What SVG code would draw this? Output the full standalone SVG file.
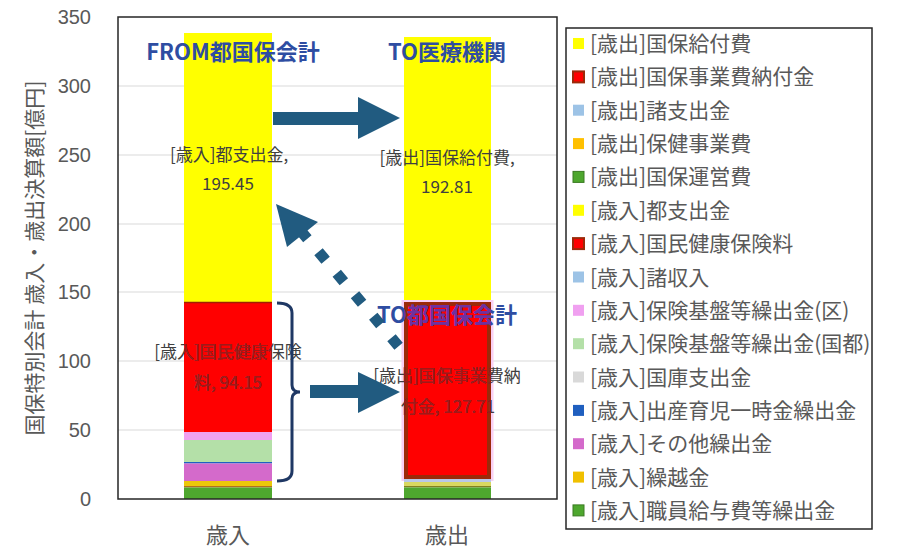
<svg xmlns="http://www.w3.org/2000/svg" width="900" height="556" viewBox="0 0 900 556">
<style>
.jp{font-family:"Noto Sans CJK JP","Noto Sans",sans-serif}
.tick{font-family:"Liberation Sans",Arial,sans-serif;font-size:20px;fill:#595959;text-anchor:end}
.grid{stroke:#D9D9D9;stroke-width:1.2}
.lbl{font-size:17px;fill:#404040;text-anchor:middle}
.lblr{font-size:17px;fill:#A01818;text-anchor:middle}
.ttl{font-size:22px;font-weight:bold;fill:#2E4DA2;text-anchor:middle}
.leg{font-size:21px;fill:#595959}
.cat{font-size:22px;fill:#595959;text-anchor:middle}
.arr{fill:#215B80}
</style>
<defs>
<clipPath id="redL"><rect x="184" y="302" width="88" height="130"/></clipPath>
<clipPath id="redR"><rect x="404" y="302" width="87" height="177"/></clipPath>
</defs>
<rect width="900" height="556" fill="#FFFFFF"/>

<g id="axes">
<line class="grid" x1="118" y1="86" x2="557" y2="86"/>
<line class="grid" x1="118" y1="155" x2="557" y2="155"/>
<line class="grid" x1="118" y1="224" x2="557" y2="224"/>
<line class="grid" x1="118" y1="292" x2="557" y2="292"/>
<line class="grid" x1="118" y1="361" x2="557" y2="361"/>
<line class="grid" x1="118" y1="430" x2="557" y2="430"/>
<text class="tick" x="91" y="24">350</text>
<text class="tick" x="91" y="93">300</text>
<text class="tick" x="91" y="162">250</text>
<text class="tick" x="91" y="231">200</text>
<text class="tick" x="91" y="299">150</text>
<text class="tick" x="91" y="368">100</text>
<text class="tick" x="91" y="437">50</text>
<text class="tick" x="91" y="506">0</text>
<text class="jp" font-size="21" fill="#595959" text-anchor="middle" transform="translate(42,258) rotate(-90)">国保特別会計 歳入・歳出決算額[億円]</text>
<text class="jp cat" x="228" y="543">歳入</text>
<text class="jp cat" x="447" y="543">歳出</text>
</g>

<g id="bar-income">
<rect x="184" y="33" width="88" height="269" fill="#FFFF00"/>
<rect x="184" y="302" width="88" height="130" fill="#FF0000"/>
<line x1="184" y1="302.5" x2="272" y2="302.5" stroke="#A02000" stroke-width="1.5"/>
<rect x="184" y="432" width="88" height="8" fill="#F0A0F0"/>
<rect x="184" y="440" width="88" height="22" fill="#B4E0A8"/>
<rect x="184" y="462" width="88" height="1.5" fill="#2060C0"/>
<rect x="184" y="463.5" width="88" height="17.5" fill="#D46ACB"/>
<rect x="184" y="481" width="88" height="5" fill="#EBC80A"/>
<rect x="184" y="486" width="88" height="1.5" fill="#B07020"/>
<rect x="184" y="487.5" width="88" height="11.5" fill="#4EA72E"/>
</g>

<g id="bar-expense">
<rect x="404" y="37" width="87" height="265" fill="#FFFF00"/>
<rect x="401.5" y="300" width="92" height="181" fill="#FAD0F4"/>
<rect x="406" y="304" width="83" height="173" fill="#FF0000" stroke="#9B2A0A" stroke-width="4"/>
<rect x="404" y="479" width="87" height="3" fill="#B8C8E8"/>
<rect x="404" y="482" width="87" height="4" fill="#D8D860"/>
<rect x="404" y="486" width="87" height="1.5" fill="#808020"/>
<rect x="404" y="487.5" width="87" height="11.5" fill="#4EA72E"/>
</g>

<rect id="plot-frame" x="118" y="17" width="439" height="482" fill="none" stroke="#262626" stroke-width="1.5"/>

<g id="labels" class="jp">
<text class="lbl" x="229" y="161">[歳入]都支出金,</text>
<text class="lbl" x="228" y="190">195.45</text>
<text class="lbl" x="447" y="164">[歳出]国保給付費,</text>
<text class="lbl" x="447" y="193">192.81</text>
<text class="lbl" x="228" y="358">[歳入]国民健康保険</text>
<text class="lbl" x="228" y="389">料, 94.15</text>
<g clip-path="url(#redL)">
<text class="lblr" x="228" y="358">[歳入]国民健康保険</text>
<text class="lblr" x="228" y="389">料, 94.15</text>
</g>
<text class="lbl" x="447" y="382">[歳出]国保事業費納</text>
<text class="lbl" x="448" y="413">付金, 127.71</text>
<g clip-path="url(#redR)">
<text class="lblr" x="447" y="382">[歳出]国保事業費納</text>
<text class="lblr" x="448" y="413">付金, 127.71</text>
</g>
</g>

<g id="title-from" class="jp"><text class="ttl" x="233" y="60">FROM都国保会計</text></g>
<g id="title-to-medical" class="jp"><text class="ttl" x="447" y="60">TO医療機関</text></g>
<g id="title-to-tokokuho" class="jp">
<text class="ttl" x="447" y="323">TO都国保会計</text>
<g clip-path="url(#redR)"><text class="ttl" x="447" y="323" style="fill:#7030A0">TO都国保会計</text></g>
</g>

<g id="connectors">
<polygon class="arr" points="273,112 358,112 358,97 400,118 358,139 358,125 273,125"/>
<polygon class="arr" points="310,385 358,385 358,372 400,392 358,413 358,398 310,398"/>
<path d="M277,303 Q292,303 292,313 L292,385 Q292,392 300,392 Q292,392 292,399 L292,471 Q292,481 277,481" fill="none" stroke="#1F3864" stroke-width="3"/>
<line x1="398.6" y1="346.2" x2="300" y2="230" stroke="#215B80" stroke-width="11" stroke-dasharray="11 17.2"/>
<polygon class="arr" points="276,204 318,222 287,247"/>
</g>

<g id="legend" class="jp">
<rect x="566" y="28" width="306" height="501" fill="#FFFFFF" stroke="#262626" stroke-width="1.5"/>
<rect x="573" y="38" width="11" height="11" fill="#FFFF00"/>
<text class="leg" x="590" y="51">[歳出]国保給付費</text>
<rect x="573" y="71.4" width="11" height="11" fill="#FF0000" stroke="#9B2A0A" stroke-width="2"/>
<text class="leg" x="590" y="84.4">[歳出]国保事業費納付金</text>
<rect x="573" y="104.7" width="11" height="11" fill="#9DC3E6"/>
<text class="leg" x="590" y="117.7">[歳出]諸支出金</text>
<rect x="573" y="138.1" width="11" height="11" fill="#FFC000"/>
<text class="leg" x="590" y="151.1">[歳出]保健事業費</text>
<rect x="573" y="171.4" width="11" height="11" fill="#4EA72E" stroke="#3A7A22" stroke-width="1"/>
<text class="leg" x="590" y="184.4">[歳出]国保運営費</text>
<rect x="573" y="204.8" width="11" height="11" fill="#FFFF00"/>
<text class="leg" x="590" y="217.8">[歳入]都支出金</text>
<rect x="573" y="238.1" width="11" height="11" fill="#FF0000" stroke="#9B2A0A" stroke-width="2"/>
<text class="leg" x="590" y="251.1">[歳入]国民健康保険料</text>
<rect x="573" y="271.5" width="11" height="11" fill="#9DC3E6"/>
<text class="leg" x="590" y="284.5">[歳入]諸収入</text>
<rect x="573" y="304.8" width="11" height="11" fill="#F0A0F0"/>
<text class="leg" x="590" y="317.8">[歳入]保険基盤等繰出金(区)</text>
<rect x="573" y="338.2" width="11" height="11" fill="#B4E0A8"/>
<text class="leg" x="590" y="351.2">[歳入]保険基盤等繰出金(国都)</text>
<rect x="573" y="371.5" width="11" height="11" fill="#D9D9D9"/>
<text class="leg" x="590" y="384.5">[歳入]国庫支出金</text>
<rect x="573" y="404.9" width="11" height="11" fill="#1F5FBF"/>
<text class="leg" x="590" y="417.9">[歳入]出産育児一時金繰出金</text>
<rect x="573" y="438.2" width="11" height="11" fill="#D46ACB"/>
<text class="leg" x="590" y="451.2">[歳入]その他繰出金</text>
<rect x="573" y="471.6" width="11" height="11" fill="#F0C000"/>
<text class="leg" x="590" y="484.6">[歳入]繰越金</text>
<rect x="573" y="504.9" width="11" height="11" fill="#4EA72E" stroke="#3A7A22" stroke-width="1"/>
<text class="leg" x="590" y="517.9">[歳入]職員給与費等繰出金</text>
</g>
</svg>
